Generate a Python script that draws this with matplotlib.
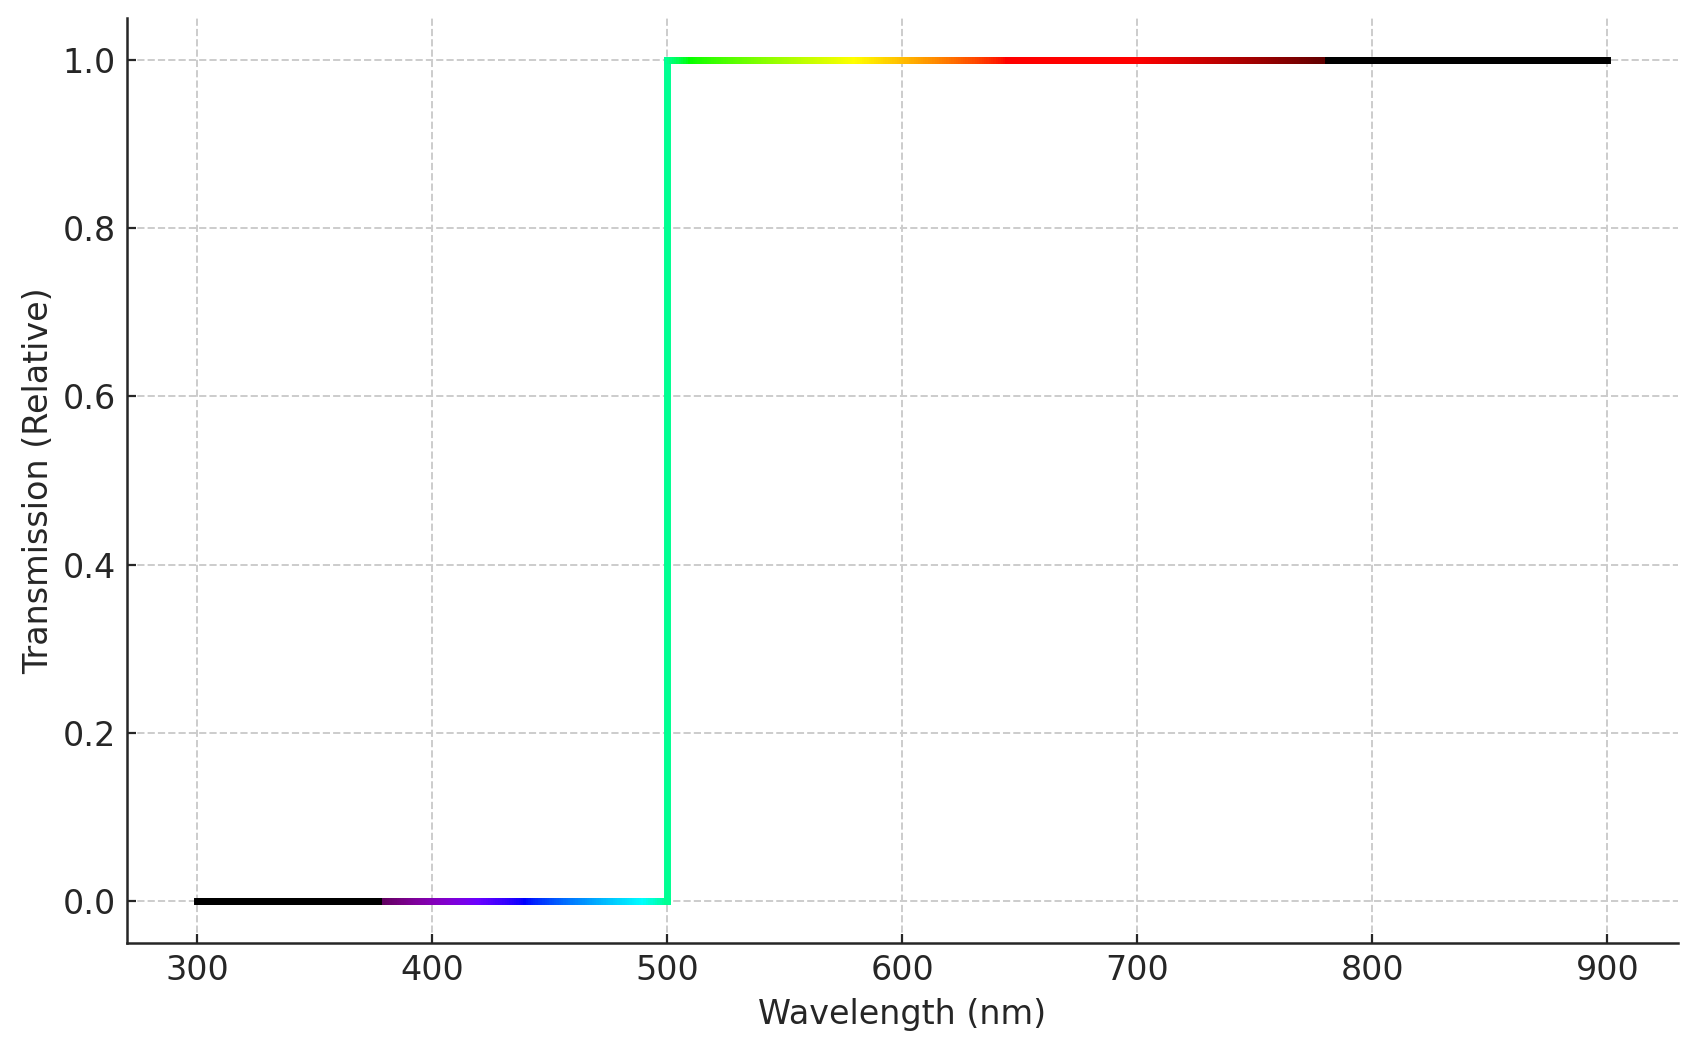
import numpy as np
import matplotlib
matplotlib.use("Agg")
import matplotlib.pyplot as plt
from matplotlib.collections import LineCollection

# Step filter: blocks below the 500 nm cut-on, passes above
wavelength_nm = [300, 500, 500, 900]
transmission = [0, 0, 1, 1]

x_ticks = [300, 400, 500, 600, 700, 800, 900]
y_ticks = [0.0, 0.2, 0.4, 0.6, 0.8, 1.0]


def wavelength_to_rgb(wl, gamma=0.8):
    """Approximate visible colour of a wavelength (Bruton style), black outside 380-780 nm"""
    if 380 <= wl < 440:
        r, g, b = -(wl - 440) / 60, 0.0, 1.0
    elif 440 <= wl < 490:
        r, g, b = 0.0, (wl - 440) / 50, 1.0
    elif 490 <= wl < 510:
        r, g, b = 0.0, 1.0, -(wl - 510) / 20
    elif 510 <= wl < 580:
        r, g, b = (wl - 510) / 70, 1.0, 0.0
    elif 580 <= wl < 645:
        r, g, b = 1.0, -(wl - 645) / 65, 0.0
    elif 645 <= wl <= 780:
        r, g, b = 1.0, 0.0, 0.0
    else:
        return (0.0, 0.0, 0.0)

    if wl < 420:
        factor = 0.3 + 0.7 * (wl - 380) / 40
    elif wl > 700:
        factor = 0.3 + 0.7 * (780 - wl) / 80
    else:
        factor = 1.0

    return tuple((c * factor) ** gamma if c > 0 else 0.0 for c in (r, g, b))


# Break each straight piece into short bits so it can carry a colour gradient
segments = []
colors = []
for i in range(len(wavelength_nm) - 1):
    x0, x1 = wavelength_nm[i], wavelength_nm[i + 1]
    y0, y1 = transmission[i], transmission[i + 1]
    n = max(int(abs(x1 - x0)), 1)
    xs = np.linspace(x0, x1, n + 1)
    ys = np.linspace(y0, y1, n + 1)
    for j in range(n):
        segments.append([(xs[j], ys[j]), (xs[j + 1], ys[j + 1])])
        colors.append(wavelength_to_rgb(xs[j]))

text_color = "#262626"
plt.rcParams["font.family"] = "DejaVu Sans"
plt.rcParams["font.size"] = 24

fig, ax = plt.subplots(figsize=(16.97, 10.5), dpi=100)
fig.subplots_adjust(left=0.0748, right=0.9888, bottom=0.1019, top=0.9829)

lc = LineCollection(segments, colors=colors, linewidths=5.0, capstyle="projecting")
ax.add_collection(lc)

ax.set_xlim(270, 930)
ax.set_ylim(-0.05, 1.05)
ax.set_xticks(x_ticks)
ax.set_yticks(y_ticks)
ax.set_yticklabels([f"{v:.1f}" for v in y_ticks])

ax.grid(True, color="#cccccc", linestyle="--", linewidth=1.4)
ax.set_axisbelow(True)

for side in ["top", "right"]:
    ax.spines[side].set_visible(False)
for side in ["left", "bottom"]:
    ax.spines[side].set_linewidth(1.8)
    ax.spines[side].set_color(text_color)

ax.tick_params(direction="in", length=6.5, width=1.6, pad=8, colors=text_color, labelsize=24)

ax.set_xlabel("Wavelength (nm)", color=text_color, labelpad=8)
ax.set_ylabel("Transmission (Relative)", color=text_color, labelpad=5)

fig.savefig("out.png", dpi=100)
